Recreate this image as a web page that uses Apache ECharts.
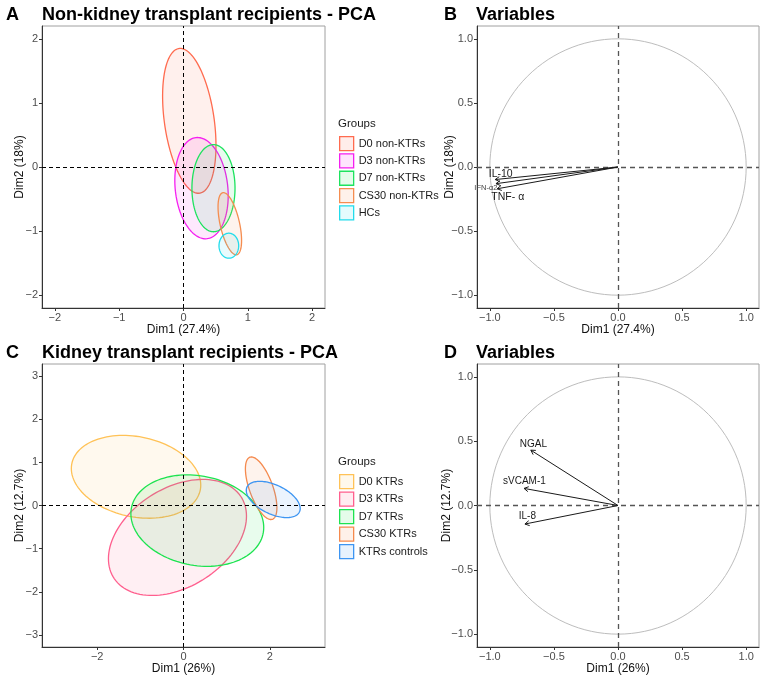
<!DOCTYPE html>
<html>
<head>
<meta charset="utf-8">
<script src="https://cdn.jsdelivr.net/npm/echarts@6/dist/echarts.min.js"></script>
<style>
  html, body { margin: 0; padding: 0; background: #fff; }
  #chart { width: 765px; height: 678px; }
</style>
</head>
<body>
<div id="chart"></div>
<script>
// ---- panel A : non-KTR PCA ellipses (centre, half-extent x/y, correlation) ----
const groupsA = ['D0 non-KTRs', 'D3 non-KTRs', 'D7 non-KTRs', 'CS30 non-KTRs', 'HCs'];
const ellCxA = [0.09, 0.28, 0.466, 0.72, 0.705];
const ellCyA = [0.72, -0.33, -0.33, -0.885, -1.228];
const ellSxA = [0.415, 0.415, 0.335, 0.183, 0.153];
const ellSyA = [1.13, 0.79, 0.68, 0.485, 0.195];
const ellRhoA = [-0.34, -0.15, 0.0, -0.54, 0.0];

// ---- panel B : variables ----
const varsB = ['IL-10', 'IFN-\u03b12', 'TNF- \u03b1'];
const arrowXB = [-0.958, -0.952, -0.943];
const arrowYB = [-0.098, -0.130, -0.170];
const labelXB = [-0.915, -1.031, -0.86];
const labelYB = [-0.059, -0.160, -0.233];

// ---- panel C : KTR PCA ellipses ----
const groupsC = ['D0 KTRs', 'D3 KTRs', 'D7 KTRs', 'CS30 KTRs', 'KTRs controls'];
const ellCxC = [-1.1, -0.14, 0.32, 1.80, 2.08];
const ellCyC = [0.665, -0.74, -0.35, 0.40, 0.14];
const ellSxC = [1.50, 1.60, 1.54, 0.365, 0.625];
const ellSyC = [0.96, 1.345, 1.06, 0.725, 0.42];
const ellRhoC = [-0.20, 0.367, -0.15, -0.62, -0.50];

// ---- panel D : variables ----
const varsD = ['NGAL', 'sVCAM-1', 'IL-8'];
const arrowXD = [-0.68, -0.733, -0.726];
const arrowYD = [0.43, 0.133, -0.144];
const labelXD = [-0.66, -0.73, -0.707];
const labelYD = [0.477, 0.191, -0.085];

// ticks
const ticksA = [-2, -1, 0, 1, 2];
const ticksB = [-1, -0.5, 0, 0.5, 1];
const ticksCx = [-2, 0, 2];
const ticksCy = [-3, -2, -1, 0, 1, 2, 3];

// styles
const colorsA = ['#FF6B4F', '#F51EF0', '#1DE35E', '#F58D50', '#22DCEB'];
const colorsC = ['#FFC257', '#FF5F8E', '#1DE350', '#F58A4E', '#3D95F2'];
const labelSizeB = [10.5, 7.5, 10.5];
const labelSizeD = [10, 10, 10];
const FONT = "'Liberation Sans', Arial, sans-serif";

function rgba(hex, a) {
  const n = parseInt(hex.slice(1), 16);
  return 'rgba(' + (n >> 16) + ',' + ((n >> 8) & 255) + ',' + (n & 255) + ',' + a + ')';
}

function ellipsePoints(api) {
  const cx = api.value(0), cy = api.value(1), sx = api.value(2), sy = api.value(3), r = api.value(4);
  const q = Math.sqrt(1 - r * r);
  const pts = [];
  for (let k = 0; k < 120; k++) {
    const t = k / 120 * Math.PI * 2;
    const c = Math.cos(t), s = Math.sin(t);
    pts.push(api.coord([cx + sx * c, cy + sy * (r * c + q * s)]));
  }
  return pts;
}

function ellipseSeries(name, gi, cx, cy, sx, sy, rho, color, fill) {
  return {
    type: 'custom', name: name, xAxisIndex: gi, yAxisIndex: gi,
    data: [[cx, cy, sx, sy, rho]],
    encode: { x: 0, y: 1 },
    itemStyle: { color: color },
    silent: true,
    renderItem: function (params, api) {
      return {
        type: 'polygon',
        shape: { points: ellipsePoints(api) },
        style: { fill: fill, stroke: color, lineWidth: 1.3 }
      };
    }
  };
}

function arrowSeries(gi, xs, ys) {
  return {
    type: 'custom', xAxisIndex: gi, yAxisIndex: gi, z: 5, silent: true,
    data: xs.map((x, i) => [x, ys[i]]),
    encode: { x: 0, y: 1 },
    renderItem: function (params, api) {
      const p0 = api.coord([0, 0]);
      const p1 = api.coord([api.value(0), api.value(1)]);
      const ang = Math.atan2(p1[1] - p0[1], p1[0] - p0[0]);
      const L = 5, a = Math.PI / 6;
      const b1 = [p1[0] - L * Math.cos(ang - a), p1[1] - L * Math.sin(ang - a)];
      const b2 = [p1[0] - L * Math.cos(ang + a), p1[1] - L * Math.sin(ang + a)];
      return {
        type: 'group', children: [
          { type: 'line', shape: { x1: p0[0], y1: p0[1], x2: p1[0], y2: p1[1] }, style: { stroke: '#1a1a1a', lineWidth: 1 } },
          { type: 'polyline', shape: { points: [b1, p1, b2] }, style: { stroke: '#1a1a1a', lineWidth: 1, fill: null } }
        ]
      };
    }
  };
}

function labelSeries(gi, names, xs, ys, sizes) {
  return {
    type: 'custom', xAxisIndex: gi, yAxisIndex: gi, z: 6, silent: true,
    data: xs.map((x, i) => [x, ys[i], i]),
    encode: { x: 0, y: 1 },
    renderItem: function (params, api) {
      const p = api.coord([api.value(0), api.value(1)]);
      const i = api.value(2);
      return {
        type: 'text', x: p[0], y: p[1],
        style: {
          text: names[i], fontSize: sizes[i], fontFamily: FONT,
          fill: sizes[i] < 9 ? '#444' : '#1a1a1a', align: 'center', verticalAlign: 'middle'
        }
      };
    }
  };
}

function zeroLines(gi, color, dash, width) {
  return {
    type: 'scatter', xAxisIndex: gi, yAxisIndex: gi, data: [[0, 0]], symbolSize: 0, silent: true, z: 4,
    markLine: {
      silent: true, symbol: 'none', label: { show: false },
      lineStyle: { color: color, type: dash, width: width },
      data: [{ xAxis: 0 }, { yAxis: 0 }]
    }
  };
}

function circleSeries(gi) {
  return {
    type: 'custom', xAxisIndex: gi, yAxisIndex: gi, silent: true,
    data: [[0, 0, 1, 1, 0]], encode: { x: 0, y: 1 },
    renderItem: function (params, api) {
      return { type: 'polygon', shape: { points: ellipsePoints(api) }, style: { fill: null, stroke: '#bdbdbd', lineWidth: 1 } };
    }
  };
}

function fmtInt(v) { return String(v).replace('-', '\u2212'); }
function fmtOne(v) { return v.toFixed(1).replace('-', '\u2212'); }

function axis(gi, min, max, ticks, fmt, name, gap, isY) {
  return {
    type: 'value', gridIndex: gi, min: min, max: max,
    name: name, nameLocation: 'middle', nameGap: gap, nameRotate: isY ? 90 : 0,
    nameMoveOverlap: false,
    nameTextStyle: { color: '#111', fontSize: 12, fontFamily: FONT },
    axisLine: { show: true, onZero: false, lineStyle: { color: '#333', width: 1 } },
    axisTick: { show: true, length: 3, customValues: ticks, lineStyle: { color: '#333' } },
    axisLabel: { customValues: ticks, formatter: fmt, color: '#4d4d4d', fontSize: 11, margin: 4, fontFamily: FONT },
    splitLine: { show: false }
  };
}

function legendData(groups, colors) {
  return groups.map((g, i) => ({
    name: g, icon: 'rect',
    itemStyle: { color: rgba(colors[i], 0.12), borderColor: colors[i], borderWidth: 1.3 }
  }));
}

const series = [];
series.push(zeroLines(0, '#000', [4, 3], 1));
groupsA.forEach((g, i) => series.push(ellipseSeries(g, 0, ellCxA[i], ellCyA[i], ellSxA[i], ellSyA[i], ellRhoA[i], colorsA[i], rgba(colorsA[i], 0.1))));
series.push(circleSeries(1));
series.push(zeroLines(1, '#555', [5, 4], 1.3));
series.push(arrowSeries(1, arrowXB, arrowYB));
series.push(labelSeries(1, varsB, labelXB, labelYB, labelSizeB));
series.push(zeroLines(2, '#000', [4, 3], 1));
groupsC.forEach((g, i) => series.push(ellipseSeries(g, 2, ellCxC[i], ellCyC[i], ellSxC[i], ellSyC[i], ellRhoC[i], colorsC[i], rgba(colorsC[i], 0.1))));
series.push(circleSeries(3));
series.push(zeroLines(3, '#555', [5, 4], 1.3));
series.push(arrowSeries(3, arrowXD, arrowYD));
series.push(labelSeries(3, varsD, labelXD, labelYD, labelSizeD));

const titleStyle = { fontSize: 18, fontWeight: 'bold', color: '#000', fontFamily: FONT };
const groupsStyle = { fontSize: 11.5, fontWeight: 'normal', color: '#1a1a1a', fontFamily: FONT };

const option = {
  animation: false,
  backgroundColor: '#fff',
  title: [
    { text: 'A', left: 6, top: 6, padding: 0, textStyle: titleStyle },
    { text: 'Non-kidney transplant recipients - PCA', left: 42, top: 6, padding: 0, textStyle: titleStyle },
    { text: 'B', left: 444, top: 6, padding: 0, textStyle: titleStyle },
    { text: 'Variables', left: 476, top: 6, padding: 0, textStyle: titleStyle },
    { text: 'C', left: 6, top: 344, padding: 0, textStyle: titleStyle },
    { text: 'Kidney transplant recipients - PCA', left: 42, top: 344, padding: 0, textStyle: titleStyle },
    { text: 'D', left: 444, top: 344, padding: 0, textStyle: titleStyle },
    { text: 'Variables', left: 476, top: 344, padding: 0, textStyle: titleStyle },
    { text: 'Groups', left: 338, top: 118, padding: 0, textStyle: groupsStyle },
    { text: 'Groups', left: 338, top: 456, padding: 0, textStyle: groupsStyle }
  ],
  legend: [
    {
      data: legendData(groupsA, colorsA), orient: 'vertical', left: 339, top: 136, padding: 0,
      itemWidth: 14, itemHeight: 14, itemGap: 2, selectedMode: false,
      textStyle: { fontSize: 11, color: '#1a1a1a', fontFamily: FONT }
    },
    {
      data: legendData(groupsC, colorsC), orient: 'vertical', left: 339, top: 474, padding: 0,
      itemWidth: 14, itemHeight: 14, itemGap: 2.2, selectedMode: false,
      textStyle: { fontSize: 11, color: '#1a1a1a', fontFamily: FONT }
    }
  ],
  grid: [
    { left: 42, top: 26, width: 283, height: 282, show: true, borderColor: '#a0a0a0', borderWidth: 1, backgroundColor: 'transparent' },
    { left: 477, top: 26, width: 282, height: 282, show: true, borderColor: '#a0a0a0', borderWidth: 1, backgroundColor: 'transparent' },
    { left: 42, top: 364, width: 283, height: 283, show: true, borderColor: '#a0a0a0', borderWidth: 1, backgroundColor: 'transparent' },
    { left: 477, top: 364, width: 282, height: 283, show: true, borderColor: '#a0a0a0', borderWidth: 1, backgroundColor: 'transparent' }
  ],
  xAxis: [
    axis(0, -2.2, 2.2, ticksA, fmtInt, 'Dim1 (27.4%)', 16, false),
    axis(1, -1.1, 1.1, ticksB, fmtOne, 'Dim1 (27.4%)', 16, false),
    axis(2, -3.28, 3.28, ticksCx, fmtInt, 'Dim1 (26%)', 16, false),
    axis(3, -1.1, 1.1, ticksB, fmtOne, 'Dim1 (26%)', 16, false)
  ],
  yAxis: [
    axis(0, -2.2, 2.2, ticksA, fmtInt, 'Dim2 (18%)', 16, true),
    axis(1, -1.1, 1.1, ticksB, fmtOne, 'Dim2 (18%)', 21, true),
    axis(2, -3.28, 3.28, ticksCy, fmtInt, 'Dim2 (12.7%)', 16, true),
    axis(3, -1.1, 1.1, ticksB, fmtOne, 'Dim2 (12.7%)', 24, true)
  ],
  series: series
};

const chart = echarts.init(document.getElementById('chart'), null, { renderer: 'canvas' });
chart.setOption(option);
</script>
</body>
</html>
